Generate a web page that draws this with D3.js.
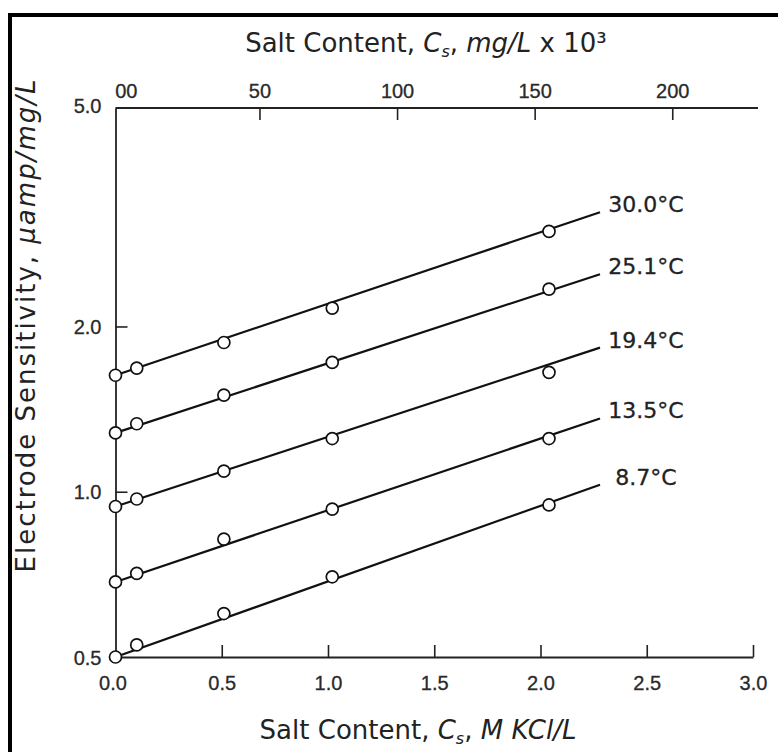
<!DOCTYPE html>
<html>
<head>
<meta charset="utf-8">
<script src="https://cdn.jsdelivr.net/npm/d3@7"></script>
<style>
  body { margin: 0; background: #fff; }
  svg { display: block; font-family: 'DejaVu Sans', sans-serif; }
  .tick-label { font-size: 20px; fill: #2a2a2a; stroke: #2a2a2a; stroke-width: 0.3px; }
  .curve-label { font-size: 22px; fill: #222; stroke: #222; stroke-width: 0.3px; }
  .title { font-size: 26px; fill: #222; }
</style>
</head>
<body>
<svg id="chart" width="778" height="752"></svg>
<script>
// Electrode sensitivity vs salt content, one series per temperature
var temps = ['30.0°C', '25.1°C', '19.4°C', '13.5°C', '8.7°C']
var kcl = [0, 0.1, 0.51, 1.02, 2.04]
var sens30 = [1.63, 1.68, 1.87, 2.16, 2.98]
var sens25 = [1.28, 1.33, 1.50, 1.72, 2.34]
var sens19 = [0.94, 0.97, 1.09, 1.25, 1.65]
var sens13 = [0.685, 0.71, 0.82, 0.93, 1.25]
var sens8 = [0.50, 0.526, 0.60, 0.70, 0.946]

// fitted straight lines (value at start / end of fitRange)
var fitRange = [0, 2.28]
var fitStart = [1.63, 1.28, 0.94, 0.685, 0.50]
var fitEnd = [3.23, 2.49, 1.83, 1.36, 1.03]

var bottomTicks = [0, 0.5, 1, 1.5, 2, 2.5, 3]
var topTicks = [0, 50, 100, 150, 200]
var topTickLabels = ['00', '50', '100', '150', '200']
var leftTicks = [0.5, 1, 2, 5]
var leftTickLabels = ['0.5', '1.0', '2.0', '5.0']

var series = [sens30, sens25, sens19, sens13, sens8]

var conf = {
  left: 115.5,
  right: 753,
  top: 108,
  bottom: 657,
  topAxisEnd: 758,
  tickLen: 12,
  radius: 6
}

var svg = d3.select('#chart')

// Scales
var x = d3.scaleLinear()
  .domain([0, 3])
  .range([conf.left, conf.right])

var y = d3.scaleLog()
  .domain([0.5, 5])
  .range([conf.bottom, conf.top])

// mg/L x 10^3 scale on top, tied to the KCl scale
var xTop = d3.scaleLinear()
  .domain([0, 200])
  .range([x(0.03), x(2.62)])

// Frame
svg.append('rect')
  .attr('x', 8).attr('y', 13)
  .attr('width', 4).attr('height', 752 - 13)
  .attr('fill', '#000')
svg.append('rect')
  .attr('x', 8).attr('y', 13)
  .attr('width', 778 - 8).attr('height', 4)
  .attr('fill', '#000')

// Bottom axis
var bottomAxis = d3.axisBottom(x)
  .tickValues(bottomTicks)
  .tickSizeInner(-conf.tickLen)
  .tickSizeOuter(0)
  .tickFormat(d3.format('.1f'))
var gB = svg.append('g')
  .attr('transform', 'translate(0,' + conf.bottom + ')')
  .call(bottomAxis)
gB.select('.domain').attr('stroke', '#222').attr('stroke-width', 1.8)
gB.selectAll('.tick line').attr('stroke', '#222').attr('stroke-width', 1.6)
gB.selectAll('.tick').filter(function (d) { return d === 0 }).select('line').remove()
gB.selectAll('.tick text')
  .attr('class', 'tick-label')
  .attr('font-family', null).attr('font-size', null)
  .attr('y', 33)
  .attr('dy', 0)
  .attr('dx', function (d) { return d === 0 ? -3 : 0 })

// Top axis
var topAxis = d3.axisTop(xTop)
  .tickValues(topTicks)
  .tickSizeInner(-conf.tickLen)
  .tickSizeOuter(0)
  .tickFormat(function (d, i) { return topTickLabels[i] })
var gT = svg.append('g')
  .attr('transform', 'translate(0,' + conf.top + ')')
  .call(topAxis)
gT.select('.domain')
  .attr('d', 'M' + conf.left + ',0H' + conf.topAxisEnd)
  .attr('stroke', '#222').attr('stroke-width', 1.8)
gT.selectAll('.tick line').attr('stroke', '#222').attr('stroke-width', 1.6)
gT.selectAll('.tick').filter(function (d) { return d === 0 }).select('line').remove()
gT.selectAll('.tick text')
  .attr('class', 'tick-label')
  .attr('font-family', null).attr('font-size', null)
  .attr('y', -10)
  .attr('dy', 0)
  .attr('dx', function (d) { return d === 0 ? 4 : 0 })

// Left axis
var leftAxis = d3.axisLeft(y)
  .tickValues(leftTicks)
  .tickSizeInner(-conf.tickLen)
  .tickSizeOuter(0)
  .tickFormat(function (d, i) { return leftTickLabels[i] })
var gL = svg.append('g')
  .attr('transform', 'translate(' + conf.left + ',0)')
  .call(leftAxis)
gL.select('.domain').attr('stroke', '#222').attr('stroke-width', 1.8)
gL.selectAll('.tick line').attr('stroke', '#222').attr('stroke-width', 1.6)
gL.selectAll('.tick').filter(function (d) { return d === 0.5 || d === 5 }).select('line').remove()
gL.selectAll('.tick text')
  .attr('class', 'tick-label')
  .attr('font-family', null).attr('font-size', null)
  .attr('x', -14)
  .attr('dy', function (d) { return d === 5 ? '0.2em' : '0.36em' })

// Fitted lines
var line = d3.line()
  .x(function (d) { return x(d[0]) })
  .y(function (d) { return y(d[1]) })

svg.selectAll('path.fit')
  .data(temps)
  .enter()
  .append('path')
  .attr('class', 'fit')
  .attr('d', function (t, i) {
    return line([[fitRange[0], fitStart[i]], [fitRange[1], fitEnd[i]]])
  })
  .attr('fill', 'none')
  .attr('stroke', '#111')
  .attr('stroke-width', 2.2)

// Points
series.forEach(function (s) {
  svg.append('g')
    .selectAll('circle')
    .data(s)
    .enter()
    .append('circle')
    .attr('cx', function (d, i) { return x(kcl[i]) })
    .attr('cy', function (d) { return y(d) })
    .attr('r', conf.radius)
    .attr('fill', '#fff')
    .attr('stroke', '#111')
    .attr('stroke-width', 1.7)
})

// Curve labels
svg.selectAll('text.curve-label')
  .data(temps)
  .enter()
  .append('text')
  .attr('class', 'curve-label')
  .attr('x', x(fitRange[1]) + 46)
  .attr('y', function (t, i) { return y(fitEnd[i]) - 8 })
  .attr('dy', '0.36em')
  .attr('text-anchor', 'middle')
  .text(function (t) { return t })

// Titles
function salt (sel, unit) {
  sel.append('tspan').text('Salt Content, ')
  sel.append('tspan').attr('font-style', 'italic').text('C')
  sel.append('tspan').attr('font-style', 'italic').attr('font-size', '16px').attr('dy', 5).text('s')
  sel.append('tspan').attr('dy', -5).text(', ')
  sel.append('tspan').attr('font-style', 'italic').text(unit)
}

var topTitle = svg.append('text')
  .attr('class', 'title')
  .attr('x', 426)
  .attr('y', 52)
  .attr('text-anchor', 'middle')
salt(topTitle, 'mg/L')
topTitle.append('tspan').text(' x 10³')

var bottomTitle = svg.append('text')
  .attr('class', 'title')
  .attr('x', 418)
  .attr('y', 739)
  .attr('text-anchor', 'middle')
salt(bottomTitle, 'M KCl/L')

var yTitle = svg.append('text')
  .attr('class', 'title')
  .attr('font-size', '27px')
  .attr('transform', 'translate(35,' + 325 + ') rotate(-90)')
  .attr('text-anchor', 'middle')
  .attr('letter-spacing', 2)
yTitle.append('tspan').text('Electrode Sensitivity, ')
yTitle.append('tspan').attr('font-style', 'italic').text('μamp/mg/L')
</script>
</body>
</html>
